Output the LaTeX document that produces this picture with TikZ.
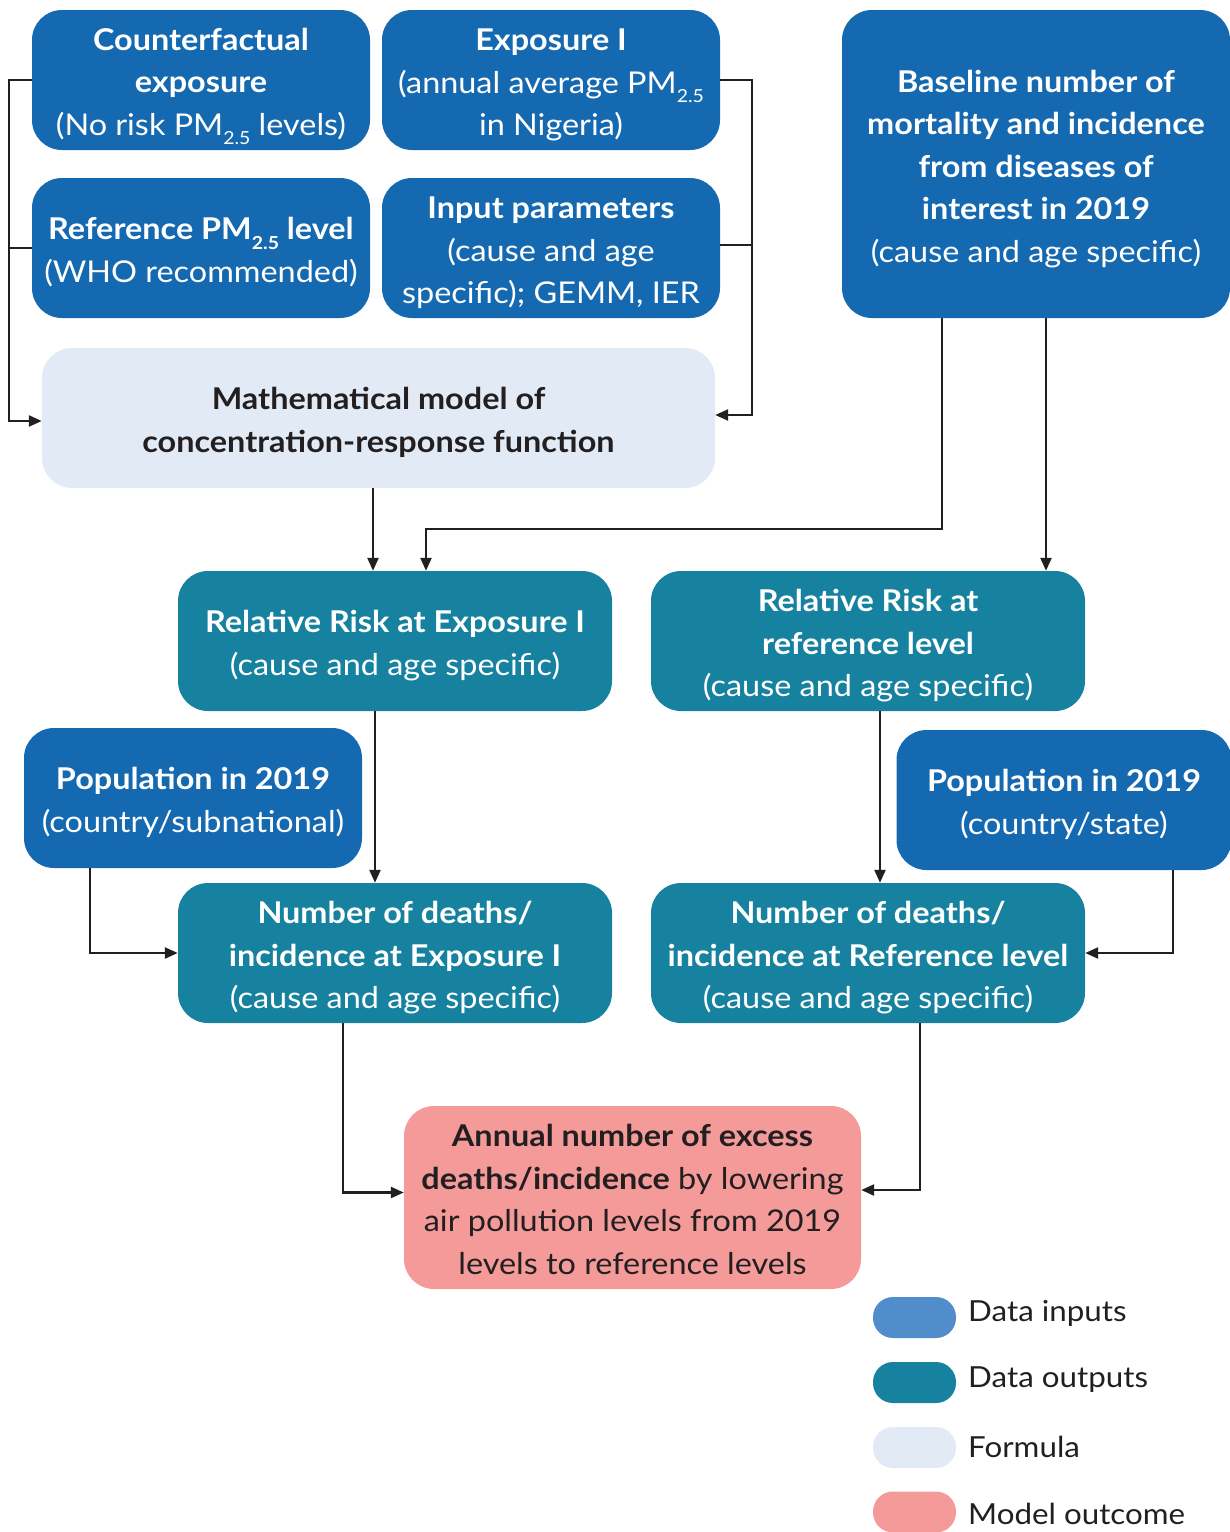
\documentclass[tikz,border=0pt]{standalone}
\usepackage{fontspec}
\setmainfont{Lato}[FakeStretch=1.08]
\usetikzlibrary{arrows.meta}
\definecolor{dblue}{RGB}{21,105,177}
\definecolor{teal}{RGB}{23,130,160}
\definecolor{formula}{RGB}{226,235,245}
\definecolor{pinkbox}{RGB}{244,155,154}
\definecolor{legblue}{RGB}{82,141,203}
\definecolor{ink}{RGB}{35,31,32}
\newcommand\subs[1]{\raisebox{-0.32em}{\fontsize{18}{18}\selectfont #1}}
\newcommand\tstrut{\rule{0pt}{35pt}}
\newcommand\bstrut{\rule[-9pt]{0pt}{9pt}}
\begin{document}
\begin{tikzpicture}[x=1pt,y=-1pt,
  box/.style={rounded corners=30pt, inner sep=0pt, align=center,
    font=\fontsize{30}{42.5}\selectfont, minimum width=338pt, minimum height=140pt},
  inbox/.style={box, fill=dblue, text=white},
  outbox/.style={box, fill=teal, text=white, minimum width=434pt},
  conn/.style={draw=ink, line width=2.4pt},
  arr/.style={conn, -{Triangle[length=13pt,width=11pt]}},
  pill/.style={rounded corners=20pt, minimum width=83pt, minimum height=41pt, inner sep=0pt},
  legtext/.style={anchor=west, text=ink, font=\fontsize{29}{34}\selectfont, inner sep=0pt}]
\useasboundingbox (0,0) rectangle (1230,1532);

% data inputs
\node[inbox] (cf) at (201,80) {\tstrut\textbf{Counterfactual}\\\textbf{exposure}\\(No risk PM\subs{2.5} levels)\bstrut};
\node[inbox] (exp) at (551,80) {\tstrut\textbf{Exposure I}\\(annual average PM\subs{2.5}\\in Nigeria)\bstrut};
\node[inbox] (ref) at (201,248) {\tstrut\textbf{Reference PM\subs{2.5} level}\\(WHO recommended)\bstrut};
\node[inbox] (inp) at (551,248) {\tstrut\textbf{Input parameters}\\(cause and age\\specific); GEMM, IER\bstrut};
\node[inbox, minimum width=388pt, minimum height=308pt] (base) at (1036,164)
  {\tstrut\textbf{Baseline number of}\\\textbf{mortality and incidence}\\\textbf{from diseases of}\\\textbf{interest in 2019}\\(cause and age specific)\bstrut};

% formula
\node[box, fill=formula, text=ink, minimum width=673pt] (math) at (378.5,418)
  {\tstrut\textbf{Mathematical model of}\\\textbf{concentration-response function}\bstrut};

% outputs
\node[outbox] (rr1) at (395,641) {\tstrut\textbf{Relative Risk at Exposure I}\\(cause and age specific)\bstrut};
\node[outbox] (rr2) at (868,641) {\tstrut\textbf{Relative Risk at}\\\textbf{reference level}\\(cause and age specific)\bstrut};
\node[inbox] (popL) at (193,798) {\tstrut\textbf{Population in 2019}\\(country/subnational)\bstrut};
\node[inbox, minimum width=335pt] (popR) at (1064,800) {\tstrut\textbf{Population in 2019}\\(country/state)\bstrut};
\node[outbox] (nd1) at (395,953) {\tstrut\textbf{Number of deaths/}\\\textbf{incidence at Exposure I}\\(cause and age specific)\bstrut};
\node[outbox] (nd2) at (868,953) {\tstrut\textbf{Number of deaths/}\\\textbf{incidence at Reference level}\\(cause and age specific)\bstrut};

% outcome
\node[box, fill=pinkbox, text=ink, minimum width=457pt, minimum height=183pt] (ann) at (632.5,1197.5)
  {\tstrut\textbf{Annual number of excess}\\\textbf{deaths/incidence} by lowering\\air pollution levels from 2019\\levels to reference levels\bstrut};

% connectors
\draw[arr] (cf.west) -- ++(-23,0) |- ([yshift=-3pt]math.west);
\draw[conn] (ref.west) -- ++(-23,0);
\draw[arr] (exp.east) -- ++(32,0) |- ([yshift=3pt]math.east);
\draw[conn] ([yshift=3pt]inp.east) -- ++(32,0);
\draw[arr] ([xshift=-5.5pt]math.south) -- ([xshift=-5.5pt]math.south |- rr1.north);
\draw[arr] ([xshift=-94pt]base.south) -- ++(0,211) -| ([xshift=31pt]rr1.north);
\draw[arr] ([xshift=10pt]base.south) -- ([xshift=10pt]base.south |- rr2.north);
\draw[arr] ([xshift=-20pt]rr1.south) -- ([xshift=-20pt]rr1.south |- nd1.north);
\draw[arr] ([xshift=12pt]rr2.south) -- ([xshift=12pt]rr2.south |- nd2.north);
\draw[arr] ([xshift=-103pt]popL.south) |- (nd1.west);
\draw[arr] ([xshift=109pt]popR.south) |- (nd2.east);
\draw[arr] ([xshift=-52pt]nd1.south) |- ([yshift=5pt]ann.west);
\draw[arr] ([xshift=52pt]nd2.south) |- ([yshift=7.5pt]ann.east);

% legend
\node[pill, fill=legblue] (l1) at (914.5,1317.5) {};
\node[pill, fill=teal] (l2) at (914.5,1382.5) {};
\node[pill, fill=formula] (l3) at (914.5,1447.5) {};
\node[pill, fill=pinkbox] (l4) at (914.5,1512) {};
\node[legtext] (t1) at (968,1313) {Data inputs};
\node[legtext] (t2) at (968,1380) {Data outputs};
\node[legtext] (t3) at (968,1447) {Formula};
\node[legtext] (t4) at (968,1514) {Model outcome};
\end{tikzpicture}
\end{document}
